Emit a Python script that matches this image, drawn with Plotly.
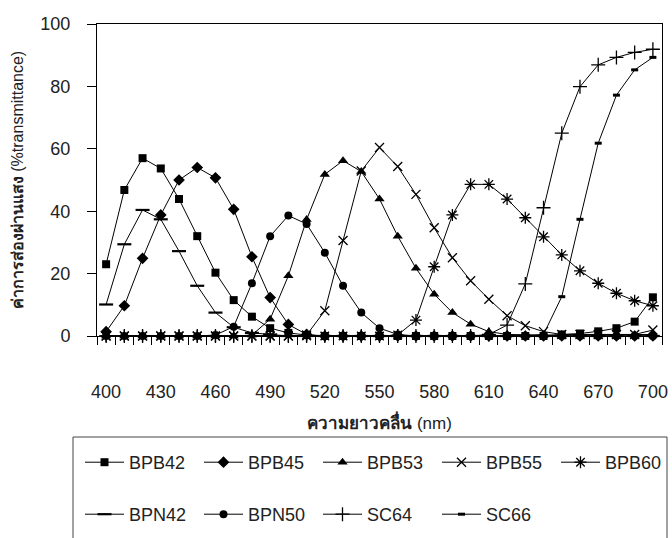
import plotly.graph_objects as go

# Wavelength categories (nm)
wavelength = [400, 410, 420, 430, 440, 450, 460, 470, 480, 490, 500,
              510, 520, 530, 540, 550, 560, 570, 580, 590, 600,
              610, 620, 630, 640, 650, 660, 670, 680, 690, 700]

# %transmittance per filter
BPB42 = [23.0, 46.8, 57.0, 53.7, 43.9, 32.0, 20.3, 11.5, 6.2, 2.5, 1.0,
         0.3, 0, 0, 0, 0, 0, 0, 0, 0, 0,
         0, 0, 0, 0, 0.5, 0.8, 1.5, 2.5, 4.6, 12.4]
BPB45 = [1.4, 9.7, 24.9, 38.8, 50.0, 54.0, 50.7, 40.6, 25.4, 12.3, 3.7,
         0.5, 0, 0, 0, 0, 0, 0, 0, 0, 0,
         0, 0, 0, 0, 0, 0, 0, 0, 0, 0]
BPB53 = [0, 0, 0, 0, 0, 0, 0, 0, 0.3, 5.4, 19.3,
         37.3, 51.8, 56.2, 52.7, 43.9, 32.0, 21.7, 13.4, 7.5, 3.8,
         1.4, 0.5, 0.3, 0.3, 0.3, 0.3, 0.3, 0.3, 0.3, 0.5]
BPB55 = [0, 0, 0, 0, 0, 0, 0, 0, 0, 0, 0,
         0.3, 8.1, 30.6, 52.9, 60.4, 54.3, 45.4, 34.7, 25.1, 17.7,
         11.8, 6.5, 3.3, 1.4, 0.5, 0.5, 0.5, 0.5, 0.5, 1.9]
BPB60 = [0, 0, 0, 0, 0, 0, 0, 0, 0, 0, 0,
         0, 0, 0, 0, 0, 0.3, 5.1, 22.2, 38.8, 48.6,
         48.6, 43.9, 37.9, 31.8, 26.0, 20.9, 16.9, 13.7, 11.3, 9.7]
BPN42 = [10.1, 29.4, 40.4, 37.4, 27.2, 16.1, 7.5, 2.8, 1.0, 0.5, 0,
         0, 0, 0, 0, 0, 0, 0, 0, 0, 0,
         0, 0, 0, 0, 0, 0, 0, 0, 0, 0]
BPN50 = [0, 0, 0, 0, 0, 0, 0.3, 3.0, 16.9, 32.0, 38.6,
         35.9, 26.7, 16.1, 7.5, 2.5, 0.5, 0, 0, 0, 0,
         0, 0, 0, 0, 0, 0, 0, 0, 0, 0]
SC64 = [0, 0, 0, 0, 0, 0, 0, 0, 0, 0, 0,
        0, 0, 0, 0, 0, 0, 0, 0, 0, 0,
        0.5, 3.5, 16.7, 41.1, 65.0, 79.9, 86.9, 89.3, 90.9, 91.9]
SC66 = [0, 0, 0, 0, 0, 0, 0, 0, 0, 0, 0,
        0, 0, 0, 0, 0, 0, 0, 0, 0, 0,
        0, 0, 0, 0.5, 12.6, 37.4, 61.8, 77.2, 85.3, 89.3]

x_tick_labels = ["400", "430", "460", "490", "520", "550",
                 "580", "610", "640", "670", "700"]
y_tick_values = [0, 20, 40, 60, 80, 100]

# (name, values, symbol, size, marker line width, legend id)
series = [
    ("BPB42", BPB42, "square", 8, 0, "legend"),
    ("BPB45", BPB45, "diamond", 9, 0, "legend"),
    ("BPB53", BPB53, "triangle-up", 9, 0, "legend"),
    ("BPB55", BPB55, "x-thin", 9, 1.3, "legend"),
    ("BPB60", BPB60, "asterisk", 10, 1.3, "legend"),
    ("BPN42", BPN42, "line-ew", 10, 2.2, "legend2"),
    ("BPN50", BPN50, "circle", 8, 0, "legend2"),
    ("SC64", SC64, "cross-thin", 10, 1.3, "legend2"),
    ("SC66", SC66, "line-ew", 5, 3, "legend2"),
]

# plot-area geometry in pixels
W, H = 672, 538
L, R, T, B = 97, 662, 24, 336


def px_x(px):
    return (px - L) / (R - L)


def px_y(py):
    return (B - py) / (B - T)


fig = go.Figure()
for name, vals, sym, size, lw, leg in series:
    fig.add_trace(go.Scatter(
        x=wavelength, y=vals, name=name, mode="lines+markers",
        line=dict(color="black", width=1),
        marker=dict(symbol=sym, size=size, color="black",
                    line=dict(color="black", width=lw)),
        cliponaxis=False, legend=leg,
    ))

step = wavelength[1] - wavelength[0]
boundaries = [wavelength[0] - step / 2 + i * step for i in range(len(wavelength) + 1)]
label_vals = [int(t) for t in x_tick_labels]

font_family = "Liberation Sans, Arial, sans-serif"

fig.update_layout(
    width=W, height=H,
    margin=dict(l=L, r=W - R, t=T, b=H - B, autoexpand=False),
    paper_bgcolor="white", plot_bgcolor="white",
    font=dict(family=font_family, size=18, color="#222"),
    xaxis=dict(
        range=[boundaries[0], boundaries[-1]],
        showline=True, linecolor="black", linewidth=1, mirror=True,
        showgrid=False, zeroline=False,
        tickmode="array", tickvals=label_vals, ticktext=x_tick_labels,
        ticks="outside", ticklen=39, tickcolor="rgba(0,0,0,0)",
        minor=dict(tickmode="array", tickvals=boundaries, ticks="outside",
                   ticklen=8, tickcolor="black", tickwidth=1, showgrid=False),
        title=dict(text="<b>ความยาวคลื่น</b> (nm)", standoff=16,
                   font=dict(size=17, color="#222")),
        automargin=False,
    ),
    yaxis=dict(
        range=[0, 100],
        showline=True, linecolor="black", linewidth=1, mirror=True,
        showgrid=False, zeroline=False,
        tickmode="array", tickvals=y_tick_values,
        ticks="outside", ticklen=9, tickcolor="black",
        ticklabelstandoff=13,
        title=dict(text="<b>ค่าการส่องผ่านแสง</b> (%transmittance)", standoff=12,
                   font=dict(size=16, color="#222")),
        automargin=False,
    ),
    legend=dict(
        orientation="h", x=px_x(80), xanchor="left", y=px_y(444), yanchor="top",
        bgcolor="rgba(0,0,0,0)", borderwidth=0, itemwidth=39,
        entrywidth=65, font=dict(size=18, color="#222"),
    ),
    legend2=dict(
        orientation="h", x=px_x(80), xanchor="left", y=px_y(496), yanchor="top",
        bgcolor="rgba(0,0,0,0)", borderwidth=0, itemwidth=39,
        entrywidth=65, font=dict(size=18, color="#222"),
    ),
    shapes=[dict(type="rect", xref="paper", yref="paper",
                 x0=px_x(73), x1=px_x(667), y0=px_y(437), y1=px_y(560),
                 line=dict(color="#444", width=1), fillcolor="rgba(0,0,0,0)",
                 layer="below")],
    showlegend=True,
)

fig.write_html("out.html")
